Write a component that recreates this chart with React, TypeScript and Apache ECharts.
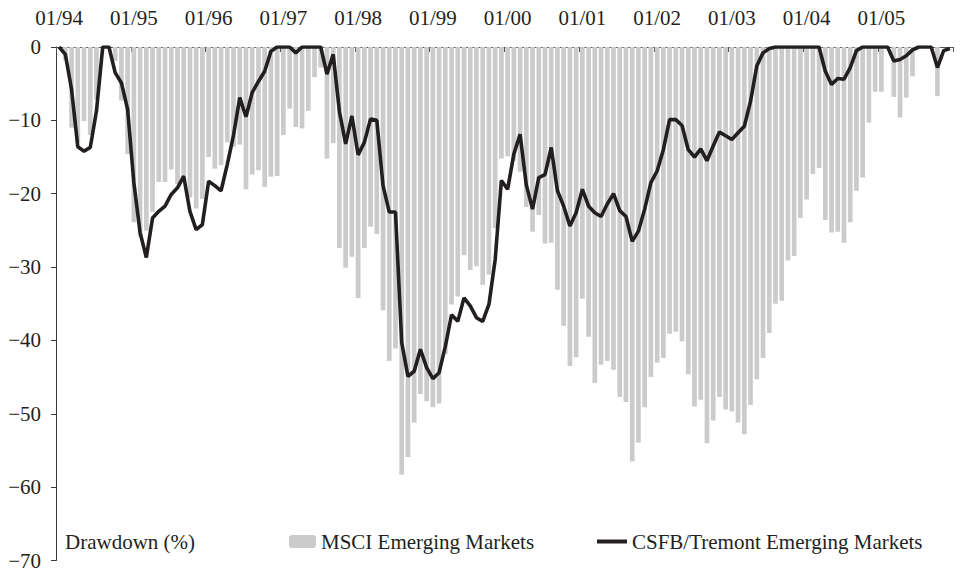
import React, { useEffect, useRef } from "react";
import * as echarts from "echarts";

const years = ["94", "95", "96", "97", "98", "99", "00", "01", "02", "03", "04", "05"];
const months = ["01", "02", "03", "04", "05", "06", "07", "08", "09", "10", "11", "12"];
const categories = years.flatMap((y) => months.map((m) => `${m}/${y}`));

const yTickValues = [0, -10, -20, -30, -40, -50, -60, -70];

const msciName = "MSCI Emerging Markets";
const csfbName = "CSFB/Tremont Emerging Markets";

// MSCI Emerging Markets drawdown (%) — monthly, 01/94 .. 12/05
const msciDrawdown = [
  0, -1.8, -11.0, -13.0, -10.1, -12.0, -7.2, 0, 0, -1.9, -7.3, -14.6,
  -23.9, -25.9, -25.0, -22.5, -18.4, -18.4, -16.7, -18.7, -17.5, -20.5, -22.0, -20.7,
  -15.0, -16.6, -16.1, -13.0, -13.6, -13.3, -19.4, -17.4, -16.8, -19.1, -17.7, -17.6,
  -12.0, -8.4, -10.9, -11.1, -8.7, -4.1, -2.8, -15.2, -13.1, -27.4, -30.1, -28.6,
  -34.2, -27.4, -24.5, -25.5, -35.9, -42.8, -41.1, -58.3, -55.9, -51.2, -47.3, -48.3,
  -49.1, -48.6, -41.9, -35.1, -34.0, -28.4, -30.4, -29.9, -32.4, -31.0, -24.7, -15.2,
  -14.9, -15.5, -17.0, -21.8, -25.2, -22.9, -26.8, -26.7, -33.1, -38.0, -43.5, -42.3,
  -34.3, -39.5, -45.8, -43.3, -42.8, -44.0, -47.7, -48.4, -56.5, -53.9, -49.1, -45.0,
  -43.0, -42.4, -39.1, -38.8, -40.1, -44.6, -49.0, -48.1, -54.0, -50.9, -47.7, -49.4,
  -49.7, -51.2, -52.8, -48.8, -45.3, -42.4, -39.0, -35.0, -34.6, -29.1, -28.5, -23.3,
  -20.8, -17.3, -16.5, -23.6, -25.3, -25.2, -26.7, -23.9, -19.6, -17.8, -10.3, -6.1,
  -6.1, 0, -6.8, -9.6, -6.9, -4.0, 0, 0, 0, -6.7, 0, 0,
];

// CSFB/Tremont Emerging Markets drawdown (%) — monthly, 01/94 .. 12/05
const csfbDrawdown = [
  0, -1.0, -5.8, -13.6, -14.2, -13.7, -8.7, 0, 0, -3.5, -4.9, -8.5,
  -18.5, -25.3, -28.7, -23.3, -22.4, -21.7, -20.1, -19.2, -17.6, -22.4, -24.9, -24.2,
  -18.3, -18.9, -19.6, -16.0, -12.0, -6.9, -9.5, -6.2, -4.7, -3.3, -0.6, 0,
  0, 0, -0.8, 0, 0, 0, 0, -3.7, -1.0, -8.8, -13.2, -9.4,
  -14.7, -13.0, -9.8, -10.0, -18.9, -22.5, -22.5, -40.3, -44.9, -44.2, -41.2, -43.7,
  -45.2, -44.4, -40.8, -36.5, -37.4, -34.2, -35.3, -36.9, -37.4, -35.1, -29.0, -18.2,
  -19.4, -14.6, -11.9, -18.8, -22.1, -17.8, -17.4, -13.7, -19.6, -21.7, -24.4, -22.6,
  -19.4, -21.7, -22.6, -23.1, -21.4, -20.0, -22.3, -23.1, -26.5, -25.1, -22.1, -18.5,
  -16.9, -14.0, -9.9, -9.9, -10.7, -14.0, -15.0, -13.9, -15.5, -13.5, -11.6, -12.1,
  -12.6, -11.7, -10.8, -7.4, -2.6, -0.8, -0.2, 0, 0, 0, 0, 0,
  0, 0, 0, -3.3, -5.1, -4.3, -4.4, -2.8, -0.5, 0, 0, 0,
  0, 0, -1.9, -1.7, -1.2, -0.4, 0, 0, 0, -2.8, -0.5, -0.2,
];

const FONT = "'Liberation Serif', 'Times New Roman', Times, serif";
const TEXT = "#231f20";
const AXIS = "#3a3a3a";

export default function App() {
  const ref = useRef<HTMLDivElement>(null);
  useEffect(() => {
    if (!ref.current) return;
    const chart = echarts.init(ref.current, undefined, { renderer: "svg" });
    chart.setOption({
      animation: false,
      textStyle: { fontFamily: FONT },
      grid: { left: 56, right: 7, top: 47, bottom: 10, containLabel: false },
      xAxis: {
        type: "category",
        data: categories,
        position: "top",
        boundaryGap: true,
        axisLine: { onZero: false, lineStyle: { color: "#555", width: 1 } },
        axisTick: { show: true, inside: true, length: 5, interval: 11, lineStyle: { color: "#555" } },
        axisLabel: { interval: 11, margin: 19, fontSize: 21, color: TEXT, fontFamily: FONT },
        splitLine: { show: false },
      },
      yAxis: {
        type: "value",
        min: yTickValues[yTickValues.length - 1],
        max: yTickValues[0],
        interval: 10,
        splitLine: { show: false },
        axisLine: { show: true, lineStyle: { color: AXIS, width: 1 } },
        axisTick: { show: true, length: 5, lineStyle: { color: AXIS } },
        axisLabel: {
          margin: 15,
          fontSize: 21,
          color: TEXT,
          fontFamily: FONT,
          formatter: (v: number) => (v < 0 ? "\u2212" + Math.abs(v) : String(v)),
        },
      },
      legend: [
        {
          data: [msciName],
          left: 289,
          top: 531,
          padding: 0,
          itemWidth: 27,
          itemHeight: 13,
          itemGap: 0,
          textStyle: { fontSize: 21, color: TEXT, fontFamily: FONT },
        },
        {
          data: [{ name: csfbName, icon: "rect" }],
          left: 597,
          top: 531,
          padding: 0,
          itemWidth: 30,
          itemHeight: 4,
          itemGap: 0,
          textStyle: { fontSize: 21, color: TEXT, fontFamily: FONT },
        },
      ],
      graphic: [
        {
          type: "text",
          left: 65,
          top: 531,
          style: { text: "Drawdown (%)", fontSize: 21, fontFamily: FONT, fill: TEXT },
        },
      ],
      series: [
        {
          name: msciName,
          type: "bar",
          data: msciDrawdown,
          barCategoryGap: "25%",
          itemStyle: { color: "#cbcbcb" },
        },
        {
          name: csfbName,
          type: "line",
          data: csfbDrawdown,
          symbol: "none",
          lineStyle: { color: TEXT, width: 3.6 },
          itemStyle: { color: TEXT },
          z: 3,
        },
      ],
    });
    return () => chart.dispose();
  }, []);
  return (
    <div
      ref={ref}
      style={{ position: "absolute", left: 0, top: 0, width: 960, height: 571 }}
    />
  );
}
